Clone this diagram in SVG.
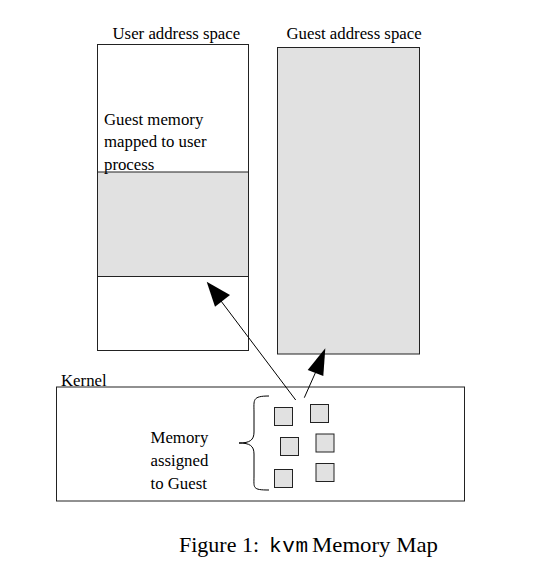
<svg xmlns="http://www.w3.org/2000/svg" width="548" height="575" viewBox="0 0 548 575">
<style>
.t{font-family:"Liberation Serif","Times New Roman",serif;font-size:16.8px;fill:#000}
.c{font-family:"Liberation Serif","Times New Roman",serif;font-size:22px;fill:#000}
.m{font-family:"Liberation Mono","Courier New",monospace;font-size:21px;fill:#000}
.box{fill:#fff;stroke:#222;stroke-width:1}
.g{fill:#e1e1e1;stroke:#222;stroke-width:1}
.ln{fill:none;stroke:#000;stroke-width:1}
.sq{fill:#e1e1e1;stroke:#222;stroke-width:1}
</style>
<rect width="548" height="575" fill="#fff"/>
<g id="user-space">
<text class="t" x="112.5" y="38.5">User address space</text>
<rect class="box" x="97.5" y="44.5" width="151" height="306"/>
<rect class="g" x="97.5" y="172" width="151" height="104.5"/>
<text class="t" x="104" y="124.5">Guest memory</text>
<text class="t" x="104" y="147">mapped to user</text>
<text class="t" x="104" y="169.5">process</text>
</g>
<g id="guest-space">
<text class="t" x="286.5" y="38.5">Guest address space</text>
<rect class="g" x="277.5" y="47.5" width="142" height="306.5"/>
</g>
<g id="kernel">
<text class="t" x="61" y="386">Kernel</text>
<rect class="box" x="56.5" y="387" width="408" height="114"/>
<path class="ln" d="M269,396 C252,396 254,400 254,412 L254,432 C254,440 250,443 239,443 C250,443 254,446 254,454 L254,476 C254,488 252,490 269,490"/>
<text class="t" x="150.5" y="442.5">Memory</text>
<text class="t" x="150.5" y="465.5">assigned</text>
<text class="t" x="150.5" y="488.5">to Guest</text>
<g id="pages">
<rect class="sq" x="274.5" y="407.5" width="18" height="18"/>
<rect class="sq" x="310.5" y="404.5" width="18" height="18"/>
<rect class="sq" x="280.5" y="437.5" width="18" height="18"/>
<rect class="sq" x="316" y="434" width="18" height="18"/>
<rect class="sq" x="274.5" y="469.5" width="18" height="18"/>
<rect class="sq" x="316" y="463.5" width="18" height="18"/>
</g>
</g>
<g id="connectors">
<line class="ln" x1="295.7" y1="400" x2="221" y2="301"/>
<polygon points="206.7,281.7 230,295 215,306.7" fill="#000"/>
<line class="ln" x1="304.3" y1="397.7" x2="315.5" y2="372.5"/>
<polygon points="325.3,348.3 323.3,376 307.7,370" fill="#000"/>
</g>
<g id="caption">
<text class="c" x="179" y="552">Figure 1:</text>
<text class="m" x="269" y="552" textLength="39" lengthAdjust="spacing">kvm</text>
<text class="c" x="312" y="552" textLength="126" lengthAdjust="spacingAndGlyphs">Memory Map</text>
</g>
</svg>
